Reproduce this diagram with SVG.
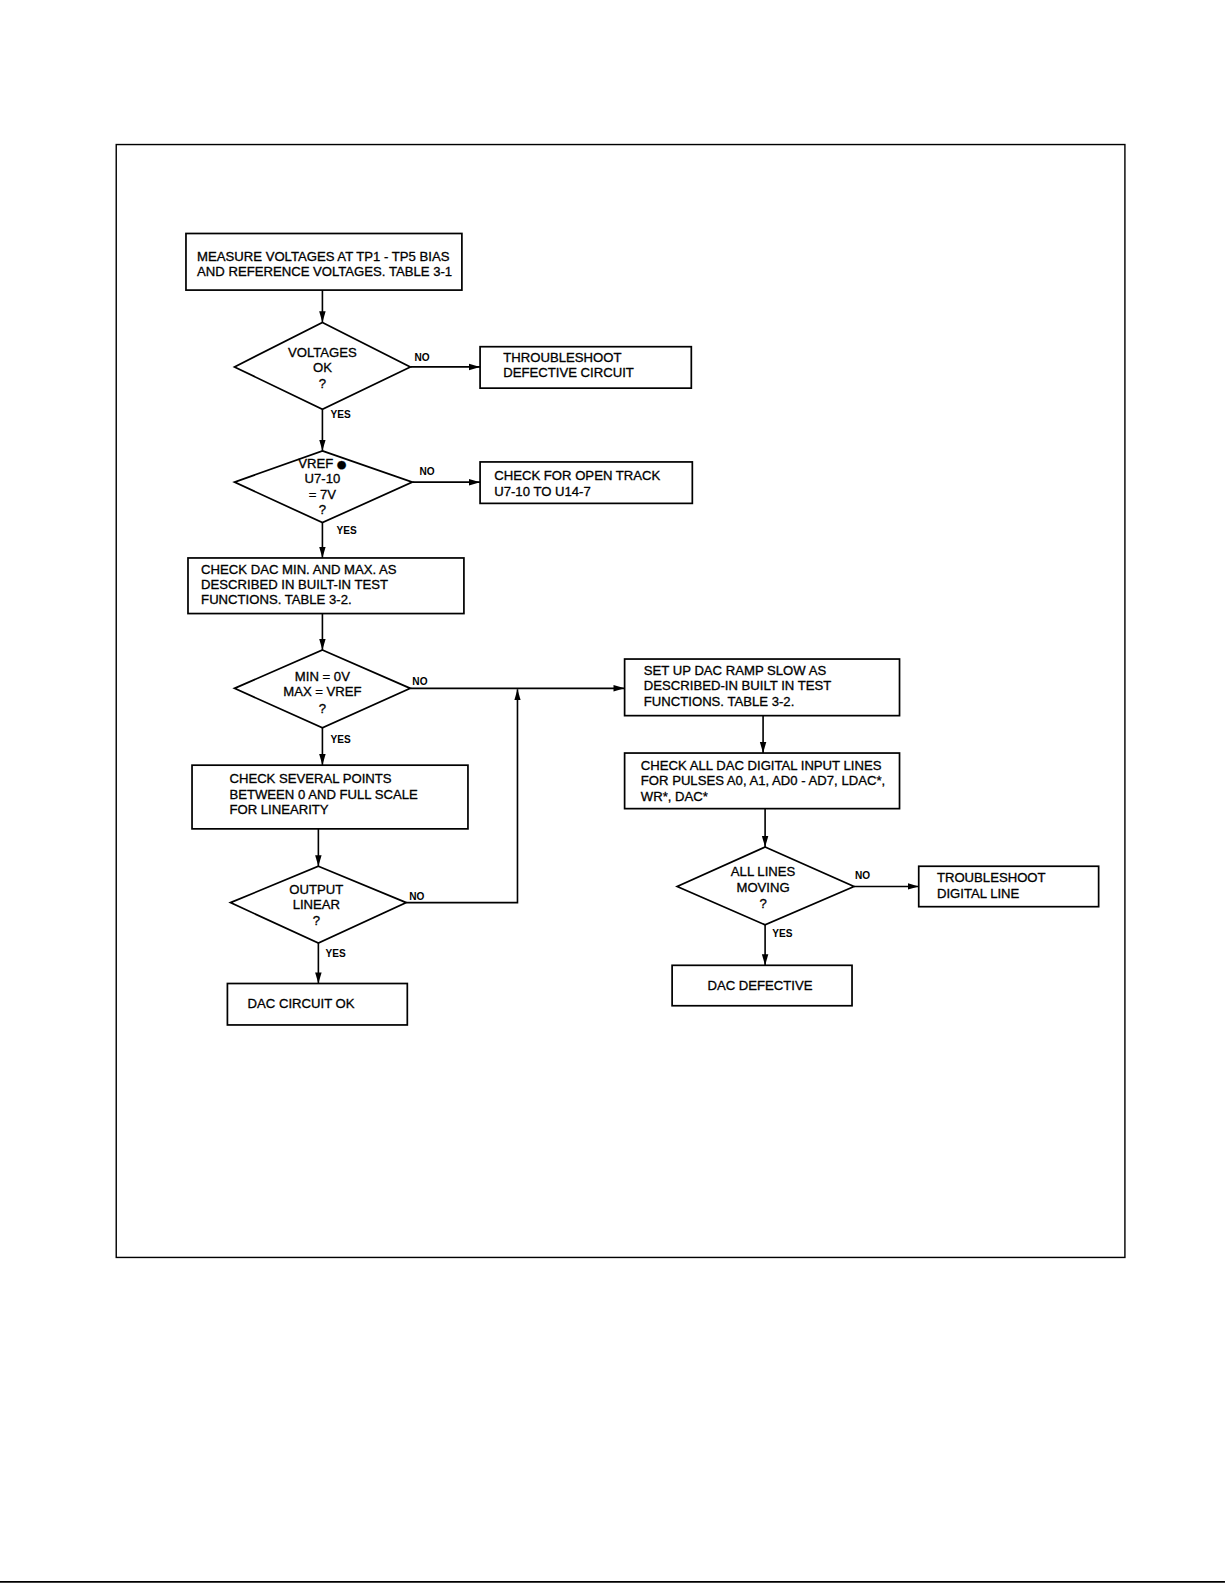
<svg xmlns="http://www.w3.org/2000/svg" width="1225" height="1585" viewBox="0 0 1225 1585">
<defs>
<marker id="ah" markerWidth="12" markerHeight="8" refX="11" refY="4" orient="auto" markerUnits="userSpaceOnUse">
<path d="M0,0.8 L11,4 L0,7.2 Z" fill="#000"/>
</marker>
<style>
.n{fill:#fff;stroke:#000;stroke-width:1.7}
.t{font-family:"Liberation Sans",Arial,sans-serif;font-size:13px;fill:#000;stroke:#000;stroke-width:0.3}
.c{text-anchor:middle}
.l{font-family:"Liberation Sans",Arial,sans-serif;font-size:10px;font-weight:bold;fill:#000}
.e{fill:none;stroke:#000;stroke-width:1.6}
</style>
</defs>
<rect width="1225" height="1585" fill="#fff"/>
<g transform="scale(1.0107 1.0108)">
<g id="frame">
<rect x="115" y="143" width="998" height="1101" fill="none" stroke="#000" stroke-width="1.4"/>
<line x1="0" y1="1565" x2="1212" y2="1565" stroke="#000" stroke-width="1.6"/>
</g>
<g id="connectors">
<line class="e" x1="319" y1="287" x2="319" y2="319" marker-end="url(#ah)"/>
<line class="e" x1="406" y1="363" x2="475" y2="363" marker-end="url(#ah)"/>
<line class="e" x1="319" y1="405" x2="319" y2="446" marker-end="url(#ah)"/>
<line class="e" x1="408" y1="477" x2="475" y2="477" marker-end="url(#ah)"/>
<line class="e" x1="319" y1="517" x2="319" y2="552" marker-end="url(#ah)"/>
<line class="e" x1="319" y1="607" x2="319" y2="643" marker-end="url(#ah)"/>
<line class="e" x1="406" y1="681" x2="618" y2="681" marker-end="url(#ah)"/>
<line class="e" x1="319" y1="720" x2="319" y2="757" marker-end="url(#ah)"/>
<line class="e" x1="315" y1="820" x2="315" y2="857" marker-end="url(#ah)"/>
<polyline class="e" points="402,893 512,893 512,682" marker-end="url(#ah)"/>
<line class="e" x1="315" y1="933" x2="315" y2="973" marker-end="url(#ah)"/>
<line class="e" x1="755" y1="708" x2="755" y2="745" marker-end="url(#ah)"/>
<line class="e" x1="757" y1="800" x2="757" y2="838" marker-end="url(#ah)"/>
<line class="e" x1="845" y1="877" x2="909" y2="877" marker-end="url(#ah)"/>
<line class="e" x1="757" y1="915" x2="757" y2="955" marker-end="url(#ah)"/>
<text class="l" x="410" y="357">NO</text>
<text class="l" x="327" y="414">YES</text>
<text class="l" x="415" y="470">NO</text>
<text class="l" x="333" y="528">YES</text>
<text class="l" x="408" y="678">NO</text>
<text class="l" x="327" y="735">YES</text>
<text class="l" x="405" y="890">NO</text>
<text class="l" x="322" y="947">YES</text>
<text class="l" x="846" y="870">NO</text>
<text class="l" x="764" y="927">YES</text>
</g>
<g id="measure">
<rect class="n" x="184" y="231" width="273" height="56"/>
<text class="t" x="195" y="258">MEASURE VOLTAGES AT TP1 - TP5 BIAS</text>
<text class="t" x="195" y="273">AND REFERENCE VOLTAGES. TABLE 3-1</text>
</g>
<g id="voltages-ok">
<polygon class="n" points="319,319 406,363 319,405 232,363"/>
<text class="t c" x="319" y="353">VOLTAGES</text>
<text class="t c" x="319" y="368">OK</text>
<text class="t c" x="319" y="384">?</text>
</g>
<g id="troubleshoot-circuit">
<rect class="n" x="475" y="343" width="209" height="41"/>
<text class="t" x="498" y="358">THROUBLESHOOT</text>
<text class="t" x="498" y="373">DEFECTIVE CIRCUIT</text>
</g>
<g id="vref">
<polygon class="n" points="319,446 408,477 319,517 232,477"/>
<text class="t c" x="319" y="463">VREF <tspan font-family="DejaVu Sans, sans-serif" font-size="11px">●</tspan></text>
<text class="t c" x="319" y="478">U7-10</text>
<text class="t c" x="319" y="494">= 7V</text>
<text class="t c" x="319" y="509">?</text>
</g>
<g id="open-track">
<rect class="n" x="475" y="457" width="210" height="41"/>
<text class="t" x="489" y="475">CHECK FOR OPEN TRACK</text>
<text class="t" x="489" y="491">U7-10 TO U14-7</text>
</g>
<g id="check-min-max">
<rect class="n" x="186" y="552" width="273" height="55"/>
<text class="t" x="199" y="568">CHECK DAC MIN. AND MAX. AS</text>
<text class="t" x="199" y="583">DESCRIBED IN BUILT-IN TEST</text>
<text class="t" x="199" y="598">FUNCTIONS. TABLE 3-2.</text>
</g>
<g id="min-max">
<polygon class="n" points="319,643 406,681 319,720 232,681"/>
<text class="t c" x="319" y="674">MIN = 0V</text>
<text class="t c" x="319" y="689">MAX = VREF</text>
<text class="t c" x="319" y="705">?</text>
</g>
<g id="check-points">
<rect class="n" x="190" y="757" width="273" height="63"/>
<text class="t" x="227" y="775">CHECK SEVERAL POINTS</text>
<text class="t" x="227" y="790">BETWEEN 0 AND FULL SCALE</text>
<text class="t" x="227" y="805">FOR LINEARITY</text>
</g>
<g id="output-linear">
<polygon class="n" points="315,857 402,893 315,933 228,893"/>
<text class="t c" x="313" y="884">OUTPUT</text>
<text class="t c" x="313" y="899">LINEAR</text>
<text class="t c" x="313" y="915">?</text>
</g>
<g id="circuit-ok">
<rect class="n" x="225" y="973" width="178" height="41"/>
<text class="t" x="245" y="997">DAC CIRCUIT OK</text>
</g>
<g id="ramp-slow">
<rect class="n" x="618" y="652" width="272" height="56"/>
<text class="t" x="637" y="668">SET UP DAC RAMP SLOW AS</text>
<text class="t" x="637" y="683">DESCRIBED-IN BUILT IN TEST</text>
<text class="t" x="637" y="698">FUNCTIONS. TABLE 3-2.</text>
</g>
<g id="check-lines">
<rect class="n" x="618" y="745" width="272" height="55"/>
<text class="t" x="634" y="762">CHECK ALL DAC DIGITAL INPUT LINES</text>
<text class="t" x="634" y="777">FOR PULSES A0, A1, AD0 - AD7, LDAC*,</text>
<text class="t" x="634" y="792">WR*, DAC*</text>
</g>
<g id="lines-moving">
<polygon class="n" points="757,838 845,877 757,915 670,877"/>
<text class="t c" x="755" y="867">ALL LINES</text>
<text class="t c" x="755" y="882">MOVING</text>
<text class="t c" x="755" y="898">?</text>
</g>
<g id="digital-line">
<rect class="n" x="909" y="857" width="178" height="40"/>
<text class="t" x="927" y="873">TROUBLESHOOT</text>
<text class="t" x="927" y="888">DIGITAL LINE</text>
</g>
<g id="dac-defective">
<rect class="n" x="665" y="955" width="178" height="40"/>
<text class="t" x="700" y="979">DAC DEFECTIVE</text>
</g>
</g>
</svg>
